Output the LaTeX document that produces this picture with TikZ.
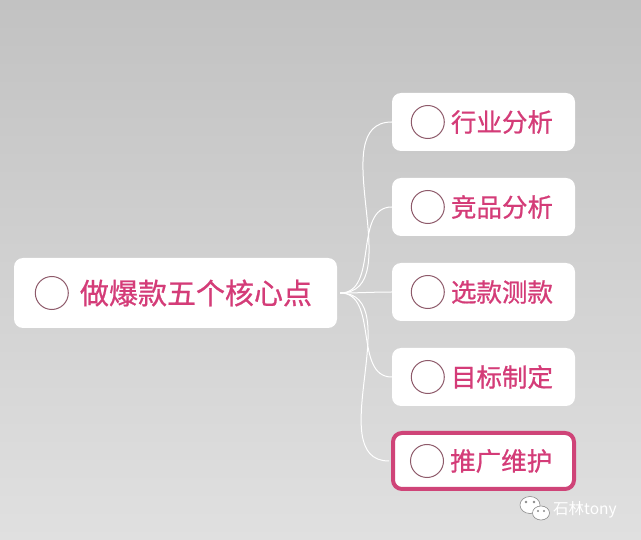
\documentclass[tikz,border=0pt]{standalone}
\usepackage{fontspec}
\newfontfamily\cjk{Noto Sans CJK SC}
\newfontfamily\cjkheavy{Noto Sans CJK SC}[FakeBold=0.8]
\usetikzlibrary{positioning}
\definecolor{rosetext}{HTML}{D43C78}
\definecolor{roseedge}{HTML}{CF4478}
\definecolor{ringline}{HTML}{8E5A6A}
\definecolor{bgdark}{HTML}{C2C2C2}
\definecolor{bglight}{HTML}{E0E0E0}
\definecolor{markgray}{HTML}{8C8C8C}

\tikzset{
  card/.style={fill=white, rounded corners=9pt, inner sep=0pt},
  ring/.style={circle, draw=ringline, line width=1pt, fill=white, minimum size=33pt, inner sep=0pt},
  rootlabel/.style={text=rosetext, font=\cjkheavy\fontsize{29}{29}\selectfont, anchor=west, inner sep=0pt},
  leaflabel/.style={text=rosetext, font=\cjkheavy\fontsize{25.5}{26}\selectfont, anchor=west, inner sep=0pt},
  branch/.style={draw=white, line width=1pt},
}

\begin{document}
\begin{tikzpicture}[x=1pt,y=-1pt]
\shade[top color=bgdark, bottom color=bglight] (0,0) rectangle (641,540); % Backdrop
\useasboundingbox (0,0) rectangle (641,540);

% Root
\node[card, minimum width=323pt, minimum height=70pt] (root) at (175.5,293) {};
\node[ring] (rootring) at ([xshift=38pt]root.west) {};
\node[rootlabel] (roottext) at ([xshift=66pt]root.west) {做爆款五个核心点};

% Leaves
\node[card, minimum width=183pt, minimum height=58pt] (hangye) at (483.5,122) {};
\node[ring] at ([xshift=36pt]hangye.west) {};
\node[leaflabel] at ([xshift=59pt]hangye.west) {行业分析};

\node[card, minimum width=183pt, minimum height=58pt] (jingpin) at (483.5,207) {};
\node[ring] at ([xshift=36pt]jingpin.west) {};
\node[leaflabel] at ([xshift=59pt]jingpin.west) {竞品分析};

\node[card, minimum width=183pt, minimum height=58pt] (xuankuan) at (483.5,292) {};
\node[ring] at ([xshift=36pt]xuankuan.west) {};
\node[leaflabel] at ([xshift=59pt]xuankuan.west) {选款测款};

\node[card, minimum width=183pt, minimum height=58pt] (mubiao) at (483.5,377) {};
\node[ring] at ([xshift=36pt]mubiao.west) {};
\node[leaflabel] at ([xshift=59pt]mubiao.west) {目标制定};

\node[card, draw=roseedge, line width=4pt, minimum width=181pt, minimum height=56pt] (tuiguang) at (483.5,461) {};
\node[ring] at ([xshift=36pt]tuiguang.west) {};
\node[leaflabel] at ([xshift=59pt]tuiguang.west) {推广维护};

% Branches
\draw[branch] ([xshift=3pt]root.east) to[out=0, in=180] (hangye.west);
\draw[branch] ([xshift=3pt]root.east) to[out=0, in=180] (jingpin.west);
\draw[branch] ([xshift=3pt]root.east) to[out=0, in=180] (xuankuan.west);
\draw[branch] ([xshift=3pt]root.east) to[out=0, in=180] (mubiao.west);
\draw[branch] ([xshift=3pt]root.east) to[out=0, in=180] ([xshift=-2pt]tuiguang.west);

% Watermark
\fill[white, draw=markgray, line width=0.6pt] (530,505) ellipse (10pt and 8.5pt); % bubble.big
\fill[white, draw=markgray, line width=0.6pt] (541,513) ellipse (8.5pt and 7pt); % bubble.small
\fill[markgray] (526,502) circle (1.3pt) (534,502) circle (1.3pt);
\fill[markgray] (538,511) circle (1.1pt) (544,511) circle (1.1pt);
\node[text=white, font=\cjk\fontsize{15.5}{16}\selectfont, anchor=west, inner sep=0pt] (mark) at (553,510) {石林tony};
\end{tikzpicture}
\end{document}
